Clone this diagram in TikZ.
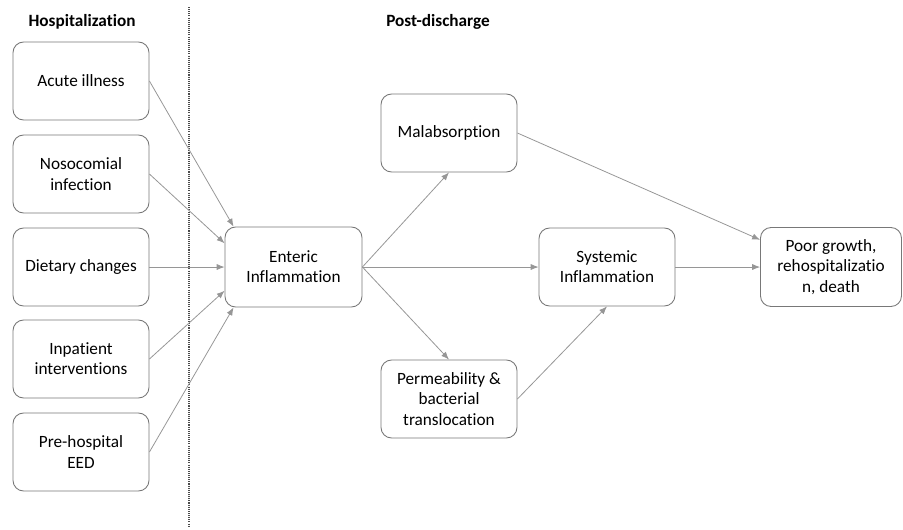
\documentclass[tikz,border=0pt]{standalone}
\usepackage{fontspec}
\setmainfont{Carlito}[Ligatures=NoCommon]
\definecolor{boxgray}{RGB}{120,120,120}
\definecolor{arrowgray}{RGB}{150,150,150}
\usetikzlibrary{arrows.meta,positioning}

\begin{document}
\begin{tikzpicture}[x=0.02cm, y=-0.02cm,
    every node/.style={font=\fontsize{9.8}{11.5}\selectfont},
    stagebox/.style={draw=boxgray, line width=0.5pt, rounded corners=6pt, fill=white,
        minimum width=2.72cm, minimum height=1.56cm, align=center, inner sep=2pt},
    link/.style={-{Latex[length=4.5pt,width=3.5pt]}, draw=arrowgray, line width=0.45pt}]
    \useasboundingbox (0,0) rectangle (903,529);

    % Phase titles and divider
    \node[font=\bfseries\fontsize{9.8}{11.5}\selectfont] (hosptitle) at (82,22) {Hospitalization};
    \node[font=\bfseries\fontsize{9.8}{11.5}\selectfont] (posttitle) at (438,22) {Post-discharge};
    \coordinate (divtop) at (189,7);
    \coordinate (divbot) at (189,526);
    \draw[black!70, line width=0.6pt, dash pattern=on 0.6pt off 0.6pt] (divtop) -- (divbot);

    % Hospitalization exposures
    \node[stagebox] (acute) at (81,81) {Acute illness};
    \node[stagebox] (noso) at (81,174) {Nosocomial\\infection};
    \node[stagebox] (diet) at (81,267) {Dietary changes};
    \node[stagebox] (inpat) at (81,359) {Inpatient\\interventions};
    \node[stagebox] (prehosp) at (81,452) {Pre-hospital\\EED};

    % Post-discharge pathway
    \node[stagebox, minimum width=2.74cm, minimum height=1.6cm] (enteric) at (293.5,267) {Enteric\\Inflammation};
    \node[stagebox] (malab) at (449,133) {Malabsorption};
    \node[stagebox] (perm) at (449,399) {Permeability \&\\bacterial\\translocation};
    \node[stagebox] (systemic) at (607,267) {Systemic\\Inflammation};
    \node[stagebox, minimum width=2.82cm, minimum height=1.58cm] (poor) at (831,267) {Poor growth,\\rehospitalizatio\\n, death};

    % Arrows
    \draw[link] (acute.east) -- (enteric.146);
    \draw[link] (noso.east) -- (enteric.161);
    \draw[link] (diet.east) -- (enteric.west);
    \draw[link] (inpat.east) -- (enteric.199);
    \draw[link] (prehosp.east) -- (enteric.214);
    \draw[link] (enteric.east) -- (malab.south);
    \draw[link] (enteric.east) -- (systemic.west);
    \draw[link] (enteric.east) -- (perm.north);
    \draw[link] (perm.east) -- (systemic.south);
    \draw[link] (malab.east) -- (poor.159);
    \draw[link] (systemic.east) -- (poor.west);
\end{tikzpicture}
\end{document}
